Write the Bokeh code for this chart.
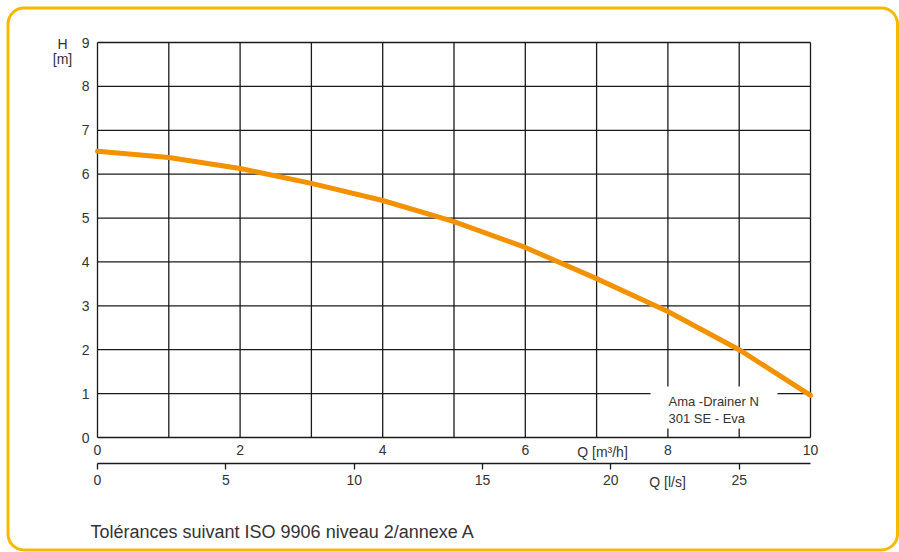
from bokeh.plotting import figure
from bokeh.models import Range1d, LinearAxis, FixedTicker, Label, BoxAnnotation
from bokeh.embed import file_html
from bokeh.resources import INLINE

# ---- data ----
q_m3h = [0, 1, 2, 3, 4, 5, 6, 7, 8, 9, 10]
h_m = [6.52, 6.38, 6.13, 5.79, 5.40, 4.92, 4.33, 3.62, 2.87, 2.00, 0.96]
x_ticks = [0, 2, 4, 6, 8, 10]
x_grid = [0, 1, 2, 3, 4, 5, 6, 7, 8, 9, 10]
y_ticks = [0, 1, 2, 3, 4, 5, 6, 7, 8, 9]
ls_ticks = [0, 5, 10, 15, 20, 25]
ls_per_m3h = 1 / 0.36
curve_name = ["Ama -Drainer N", "301 SE - Eva"]
footnote = "Tolérances suivant ISO 9906 niveau 2/annexe A"

FONT = "Liberation Sans"
TXT = "#333333"
GRID = "#1a1a1a"
ORANGE = "#f39200"
YELLOW = "#f6b900"

W, H = 899, 552
# pixel layout of the grid area
X0, X1 = 97.0, 810.0      # Q = 0 .. 10
Y0, Y9 = 437.0, 42.0      # H = 0 .. 9
sx = (X1 - X0) / 10.0
sy = (Y0 - Y9) / 9.0

def dx(px):
    return (px - X0) / sx

def dy(py):
    return (Y0 - py) / sy

p = figure(width=W, height=H, output_backend="svg", toolbar_location=None,
           x_range=Range1d(dx(0), dx(W)), y_range=Range1d(dy(H), dy(0)),
           x_axis_type=None, y_axis_type=None, min_border=0)
p.background_fill_color = "white"
p.border_fill_color = "white"
p.outline_line_color = None
p.grid.visible = False

# grid lines
p.segment(x0=x_grid, x1=x_grid, y0=[0] * len(x_grid), y1=[9] * len(x_grid),
          line_color=GRID, line_width=1.3)
p.segment(x0=[0] * len(y_ticks), x1=[10] * len(y_ticks), y0=y_ticks, y1=y_ticks,
          line_color=GRID, line_width=1.3)

def style_axis(ax, size="14px"):
    ax.major_label_text_font = FONT
    ax.major_label_text_font_size = size
    ax.major_label_text_color = TXT
    ax.minor_tick_line_color = None

# y axis (H)
ya = LinearAxis(ticker=FixedTicker(ticks=y_ticks), fixed_location=0)
style_axis(ya)
ya.axis_line_color = None
ya.major_tick_line_color = None
ya.major_tick_out = 0
ya.major_tick_in = 0
ya.major_label_standoff = 8
p.add_layout(ya, "left")

# x axis (Q m3/h)
xa = LinearAxis(ticker=FixedTicker(ticks=x_ticks), fixed_location=0)
style_axis(xa)
xa.axis_line_color = None
xa.major_tick_line_color = None
xa.major_tick_out = 0
xa.major_tick_in = 0
xa.major_label_standoff = 7
p.add_layout(xa, "below")

# second x axis (Q l/s)
p.extra_x_ranges = {"ls": Range1d(dx(0) * ls_per_m3h, dx(W) * ls_per_m3h)}
la = LinearAxis(x_range_name="ls", ticker=FixedTicker(ticks=ls_ticks),
                fixed_location=dy(463), bounds=(0, 10 * ls_per_m3h))
style_axis(la)
la.axis_line_color = GRID
la.axis_line_width = 1.3
la.major_tick_line_color = GRID
la.major_tick_line_width = 1.3
la.major_tick_in = 0
la.major_tick_out = 6
la.major_label_standoff = 5
p.add_layout(la, "below")

# white box behind curve name
p.quad(left=[dx(650)], right=[dx(777)], bottom=[dy(428)], top=[dy(386)],
       fill_color="white", line_color=None)

# curve
p.line(q_m3h, h_m, line_color=ORANGE, line_width=5, line_join="round", line_cap="round")

# texts
def lab(text, x, y, size="14px", align="left", baseline="middle", **kw):
    p.add_layout(Label(text=text, x=x, y=y, text_font=FONT, text_font_size=size,
                       text_color=TXT, text_align=align, text_baseline=baseline, **kw))

lab(curve_name[0], dx(668), dy(401), size="13px")
lab(curve_name[1], dx(668), dy(418), size="13px")
lab("H", dx(62), dy(43), align="center")
lab("[m]", dx(62), dy(58), align="center")
lab("Q [m³/h]", dx(602), dy(451), size="14px", align="center")
lab("Q [l/s]", dx(667) * ls_per_m3h, dy(481), size="14px", align="center",
    x_range_name="ls")
lab(footnote, dx(90), dy(531), size="18px")

# rounded frame
p.add_layout(BoxAnnotation(left=dx(7.5), right=dx(897), top=dy(7.5), bottom=dy(549.5),
                           fill_color=None, fill_alpha=0, line_color=YELLOW,
                           line_alpha=1.0, line_width=3, border_radius=16))

open("out.html", "w").write(file_html(p, INLINE))
